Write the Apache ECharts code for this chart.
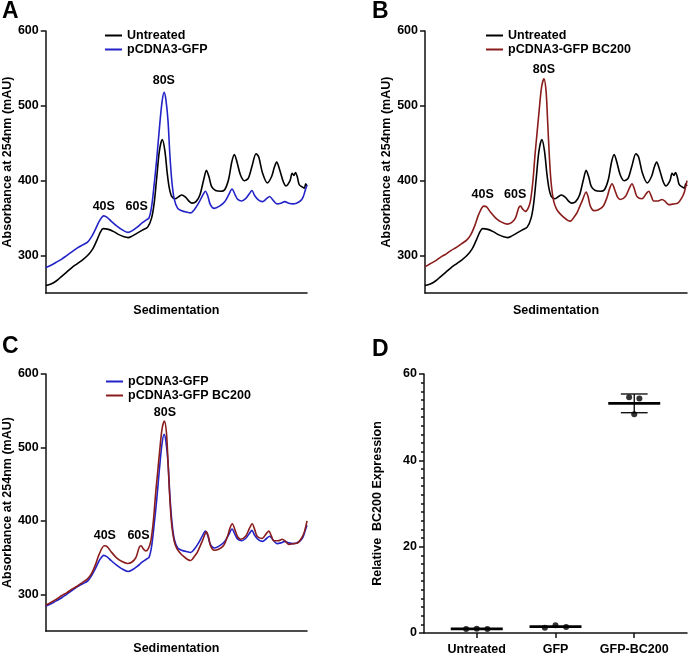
<!DOCTYPE html>
<html><head><meta charset="utf-8">
<script src="https://cdn.jsdelivr.net/npm/echarts@6/dist/echarts.min.js"></script>
<style>html,body{margin:0;padding:0;background:#fff}#c{width:688px;height:656px}</style>
</head><body><div id="c"></div>
<script>
// ---- data: polysome traces [sedimentation position, absorbance mAU] ----
const untreatedTrace = [[0,260],[2,262],[4,266],[6,272],[8,278],[10,284],[12,289],[14,294],[16,300],[18,309],[19.5,320],[21,332],[22,336],[24,335],[26,332],[28,328],[30,325],[31.5,324],[33,326],[35,330],[37,334],[39,338],[40.5,350],[41.5,370],[42.5,405],[43.5,440],[44.6,455],[45.6,440],[46.5,410],[47.3,390],[48.2,379],[49.5,376],[51,379],[52,381],[53.5,378],[55,372],[56,370],[57.5,372],[59,381],[60.5,402],[61.5,414],[62.5,405],[63.5,392],[65,387],[67,386],[68.5,388],[70,402],[71.2,425],[72.2,435],[73.2,425],[74.5,408],[76,400],[77.5,403],[79,420],[80.5,436],[81.5,432],[83,410],[84.8,397],[86.5,406],[87.5,418],[88.4,425],[89.5,415],[91,398],[92,393],[93.5,400],[94.3,410],[95,407],[95.6,411],[96.3,405],[97,395],[98,392],[99,390],[99.5,396],[100,393]];
const gfpTrace = [[0,284],[2,287],[4,291],[6,295],[8,300],[10,305],[12,310],[14,314],[16,318],[17.5,325],[19,335],[20.5,346],[22.2,353],[23.5,351],[25,346],[27,340],[29,335],[31.5,331],[33,333],[35,338],[37,344],[38.6,348],[39.5,350],[40.5,365],[41.5,395],[42.5,430],[43.5,470],[44.5,505],[45.3,518],[46,508],[46.8,480],[47.5,435],[48.3,398],[49.2,375],[50.5,363],[52,360],[54,358],[55.5,357],[57,362],[58.5,370],[60,380],[61.1,386],[62,380],[63,368],[64.5,363],[66.5,366],[68.5,372],[70,381],[71.3,389],[72.5,381],[73.5,375],[75,373],[76.5,376],[78,383],[78.9,387],[80,380],[81.5,374],[83,372],[84.5,376],[85.7,379],[87,374],[88.6,369],[90,370],[91.5,372],[93,370],[94.5,369],[96,370],[97.5,373],[98.5,378],[99.4,388],[100,394]];
const bc200Trace = [[0,285],[2,289],[4,293],[6,298],[8,302],[10,307],[12,311],[14,316],[16,321],[17.5,328],[19,340],[20.5,355],[22.4,366],[23.5,365],[25,358],[27,350],[29,345],[31.3,342],[33,344],[34.5,350],[35.8,364],[36.5,366],[37.3,362],[38.3,359],[39.2,362],[40.2,372],[41.2,400],[42,435],[42.8,465],[43.6,495],[44.5,525],[45.4,536],[46.2,520],[46.8,480],[47.5,430],[48.2,395],[49.1,373],[50.2,362],[51.5,356],[53,351],[54.5,347],[55.5,346],[57,352],[58,357],[59,365],[60,373],[61.5,385],[62.3,378],[63.1,366],[64.5,360],[66,361],[68,366],[69.5,378],[70.5,390],[71.4,396],[72.5,387],[73.5,378],[74.6,375],[76.5,379],[78,390],[79,396],[80,388],[80.9,379],[82.8,376],[84.5,383],[85.4,386],[86.3,380],[87.3,373],[89,373],[90.5,375],[91.5,373],[93,368],[95,369],[96.5,370],[98,377],[99,385],[100,400]];
const traceTicks = [300, 400, 500, 600];
const peakNames = ['40S', '60S', '80S'];
const peakA = [[22.2, 366], [34.8, 366], [45.2, 534]];
const peakB = [[22.0, 381], [34.4, 381], [45.4, 548]];
const peakC = [[22.6, 380], [35.5, 380], [45.6, 547]];
// ---- panel D: qPCR ----
const dGroups = ['Untreated', 'GFP', 'GFP-BC200'];
const dValues = [[0.95, 1.0, 0.95], [1.2, 1.8, 1.4], [54.6, 54.3, 50.7]];
const dTicks = [0, 20, 40, 60];

const FONT = '"Liberation Sans", Arial, sans-serif';
const txt = {fontFamily: FONT, fontWeight: 'bold', fontSize: 12.5, color: '#000'};
const AX = {color: '#111', width: 1.5};
const C_BLACK = '#000', C_BLUE = '#2323c8', C_RED = '#8a1c1c';

const grids = [
  {left: 43, top: 31, width: 264, height: 262},
  {left: 425, top: 31, width: 262, height: 262},
  {left: 43, top: 374, width: 264, height: 262},
  {left: 424, top: 374, width: 263, height: 262}
];

function traceX(i) {
  return {gridIndex: i, type: 'value', min: 0, max: 100,
    axisLine: {show: true, onZero: false, lineStyle: AX}, axisTick: {show: false}, axisLabel: {show: false},
    splitLine: {show: false}, name: 'Sedimentation', nameLocation: 'middle', nameGap: 11, nameTextStyle: txt};
}
function traceY(i) {
  return {gridIndex: i, type: 'value', min: 250, max: 600,
    axisLine: {show: true, onZero: false, lineStyle: AX},
    axisTick: {show: true, customValues: traceTicks, length: 5, lineStyle: AX},
    axisLabel: {customValues: traceTicks, margin: 7, ...txt},
    splitLine: {show: false}, name: 'Absorbance at 254nm (mAU)', nameLocation: 'middle', nameGap: 30, nameRotate: 90, nameTextStyle: txt};
}
function line(name, data, color, i) {
  return {type: 'line', name, data, xAxisIndex: i, yAxisIndex: i, showSymbol: false, symbol: 'none', smooth: 0.3,
    lineStyle: {color, width: 1.6}, itemStyle: {color}, silent: true, animation: false};
}
function peaks(pos, i) {
  return {type: 'custom', xAxisIndex: i, yAxisIndex: i, silent: true, animation: false,
    data: pos.map((p, k) => [p[0], p[1], k]),
    renderItem: function (params, api) {
      const c = api.coord([api.value(0), api.value(1)]);
      return {type: 'text', x: c[0], y: c[1],
        style: {text: peakNames[api.value(2)], font: 'bold 12.5px ' + FONT, fill: '#000', align: 'center', verticalAlign: 'middle'}};
    }};
}
function legend(names, left, top) {
  return {data: names, left, top, orient: 'vertical', icon: 'rect', itemWidth: 17, itemHeight: 2, itemGap: 1,
    selectedMode: false, textStyle: {...txt}};
}

const jitter = [[-0.135, 0, 0.135], [-0.135, 0, 0.135], [-0.065, 0.065, 0]];
const dPts = [];
const dStats = [];
dValues.forEach((vals, g) => {
  vals.forEach((v, k) => dPts.push([g + 1 + jitter[g][k], v]));
  const m = vals.reduce((a, b) => a + b, 0) / vals.length;
  const sd = Math.sqrt(vals.reduce((a, b) => a + (b - m) * (b - m), 0) / (vals.length - 1));
  dStats.push([g + 1, m, sd]);
});

const option = {
  animation: false,
  backgroundColor: '#fff',
  grid: grids,
  xAxis: [traceX(0), traceX(1), traceX(2),
    {gridIndex: 3, type: 'value', min: 0.33, max: 3.67,
      axisLine: {show: true, onZero: false, lineStyle: AX},
      axisTick: {show: true, customValues: [1, 2, 3], length: 5, lineStyle: AX},
      axisLabel: {customValues: [1, 2, 3], formatter: v => dGroups[Math.round(v) - 1], margin: 10, ...txt},
      splitLine: {show: false}}],
  yAxis: [traceY(0), traceY(1), traceY(2),
    {gridIndex: 3, type: 'value', min: 0, max: 60, interval: 20,
      axisLine: {show: true, onZero: false, lineStyle: AX},
      axisTick: {show: true, length: 5, lineStyle: AX},
      minorTick: {show: true, splitNumber: 10, length: 3, lineStyle: AX},
      axisLabel: {margin: 7, ...txt},
      splitLine: {show: false}, name: 'Relative  BC200 Expression', nameLocation: 'middle', nameGap: 40, nameRotate: 90, nameTextStyle: txt}],
  legend: [
    legend(['Untreated', 'pCDNA3-GFP'], 100, 24),
    legend(['Untreated', 'pCDNA3-GFP BC200'], 481, 24),
    legend(['pCDNA3-GFP', 'pCDNA3-GFP BC200'], 101, 370)
  ],
  series: [
    line('Untreated', untreatedTrace, C_BLACK, 0),
    line('pCDNA3-GFP', gfpTrace, C_BLUE, 0),
    peaks(peakA, 0),
    line('Untreated', untreatedTrace, C_BLACK, 1),
    line('pCDNA3-GFP BC200', bc200Trace, C_RED, 1),
    peaks(peakB, 1),
    line('pCDNA3-GFP', gfpTrace, C_BLUE, 2),
    line('pCDNA3-GFP BC200', bc200Trace, C_RED, 2),
    peaks(peakC, 2),
    {type: 'custom', xAxisIndex: 3, yAxisIndex: 3, data: dStats, silent: true, animation: false,
      renderItem: function (params, api) {
        const x = api.value(0), m = api.value(1), sd = api.value(2);
        const L = api.coord([x - 0.33, m]), R = api.coord([x + 0.33, m]);
        const T = api.coord([x, m + sd]), B = api.coord([x, m - sd]);
        const cl = api.coord([x - 0.17, m])[0], cr = api.coord([x + 0.17, m])[0];
        const st = {stroke: '#000', lineWidth: 1.3};
        const ch = [{type: 'line', shape: {x1: L[0], y1: L[1], x2: R[0], y2: R[1]}, style: {stroke: '#000', lineWidth: 2.6}}];
        if (B[1] - T[1] > 3) {
          ch.push({type: 'line', shape: {x1: T[0], y1: T[1], x2: B[0], y2: B[1]}, style: st});
          ch.push({type: 'line', shape: {x1: cl, y1: T[1], x2: cr, y2: T[1]}, style: st});
          ch.push({type: 'line', shape: {x1: cl, y1: B[1], x2: cr, y2: B[1]}, style: st});
        }
        return {type: 'group', children: ch};
      }},
    {type: 'scatter', xAxisIndex: 3, yAxisIndex: 3, data: dPts, symbolSize: 6, itemStyle: {color: '#000'}, silent: true, animation: false}
  ],
  graphic: [
    {type: 'text', left: 2, top: 0, style: {text: 'A', font: 'bold 23px ' + FONT, fill: '#000'}},
    {type: 'text', left: 372, top: 0, style: {text: 'B', font: 'bold 23px ' + FONT, fill: '#000'}},
    {type: 'text', left: 2, top: 335, style: {text: 'C', font: 'bold 23px ' + FONT, fill: '#000'}},
    {type: 'text', left: 372, top: 338, style: {text: 'D', font: 'bold 23px ' + FONT, fill: '#000'}}
  ]
};
const chart = echarts.init(document.getElementById('c'), null, {renderer: 'canvas'});
chart.setOption(option);
</script></body></html>
